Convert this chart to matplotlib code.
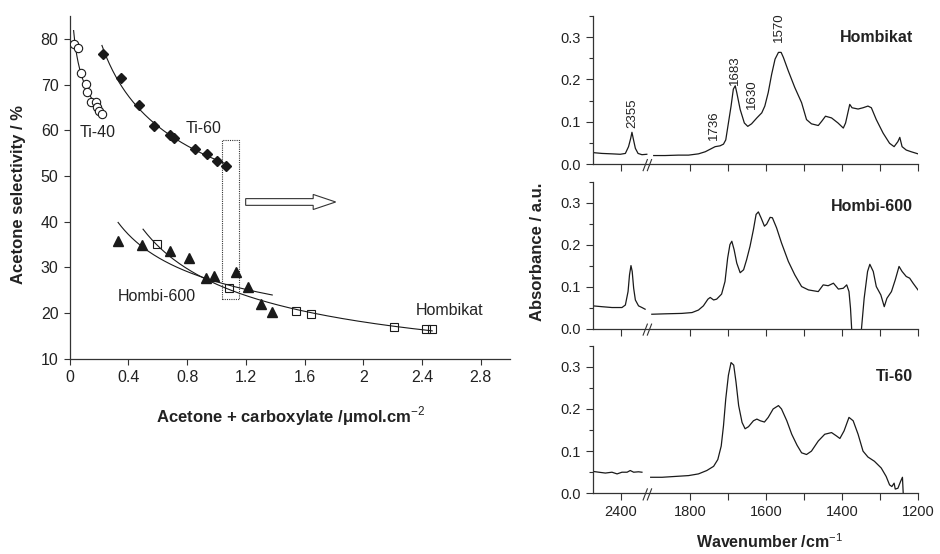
import numpy as np
import matplotlib
matplotlib.use("Agg")
import matplotlib.pyplot as plt
from matplotlib.patches import Rectangle, FancyArrow

plt.rcParams['font.family'] = ['Liberation Sans', 'DejaVu Sans']
plt.rcParams['mathtext.fontset'] = 'custom'
plt.rcParams['mathtext.rm'] = 'Liberation Sans'
plt.rcParams['mathtext.bf'] = 'Liberation Sans:bold'

# ---------------- left panel data ----------------
ti40_x = [0.029, 0.059, 0.077, 0.109, 0.120, 0.143, 0.179, 0.188, 0.202, 0.222]
ti40_y = [78.9, 77.9, 72.6, 70.2, 68.4, 66.2, 66.1, 65.1, 64.3, 63.6]
ti60_x = [0.227, 0.347, 0.470, 0.576, 0.683, 0.713, 0.854, 0.933, 1.003, 1.067]
ti60_y = [76.6, 71.4, 65.6, 60.9, 58.9, 58.2, 55.9, 54.7, 53.3, 52.2]
h600_x = [0.327, 0.490, 0.683, 0.815, 0.928, 0.985, 1.131, 1.213, 1.301, 1.376]
h600_y = [35.8, 34.9, 33.6, 32.0, 27.6, 28.0, 29.0, 25.7, 22.0, 20.3]
hk_x = [0.597, 1.085, 1.540, 1.642, 2.209, 2.425, 2.470]
hk_y = [35.0, 25.5, 20.4, 19.7, 17.0, 16.4, 16.4]
fit_ranges = {'ti40': (0.027, 0.225), 'ti60': (0.22, 1.075),
              'h600': (0.33, 1.38), 'hk': (0.50, 2.47)}

left_xticks = [0, 0.4, 0.8, 1.2, 1.6, 2.0, 2.4, 2.8]
left_xticklabels = ['0', '0.4', '0.8', '1.2', '1.6', '2', '2.4', '2.8']
left_yticks = [10, 20, 30, 40, 50, 60, 70, 80]

# ---------------- right panel data (spectra) ----------------
hk_l_wn = [2516, 2478, 2437, 2403, 2382, 2369, 2360, 2355, 2350, 2341, 2330, 2314, 2294]
hk_l_ab = [0.027, 0.025, 0.024, 0.023, 0.025, 0.041, 0.061, 0.075, 0.061, 0.037, 0.025, 0.022, 0.023]
hk_r_wn = [1897, 1867, 1832, 1805, 1779, 1761, 1748, 1735, 1722, 1713, 1707, 1700, 1693, 1687, 1682,
           1678, 1669, 1658, 1649, 1639, 1625, 1612, 1604, 1595, 1586, 1577, 1568, 1561, 1555, 1542,
           1525, 1507, 1494, 1481, 1463, 1454, 1444, 1428, 1411, 1397, 1391, 1380, 1374, 1358, 1345,
           1332, 1323, 1310, 1292, 1275, 1263, 1253, 1248, 1242, 1231, 1218, 1200]
hk_r_ab = [0.020, 0.020, 0.021, 0.021, 0.024, 0.029, 0.035, 0.041, 0.043, 0.047, 0.057, 0.097, 0.137, 0.177, 0.185,
           0.169, 0.129, 0.097, 0.089, 0.095, 0.109, 0.121, 0.137, 0.169, 0.212, 0.248, 0.264, 0.264, 0.252, 0.220,
           0.181, 0.145, 0.105, 0.095, 0.091, 0.101, 0.113, 0.109, 0.097, 0.085, 0.097, 0.141, 0.133, 0.130, 0.133,
           0.137, 0.133, 0.105, 0.073, 0.049, 0.041, 0.053, 0.063, 0.041, 0.033, 0.029, 0.024]

h6_l_wn = [2516, 2478, 2437, 2396, 2382, 2371, 2365, 2359, 2354, 2348, 2341, 2328, 2314, 2301]
h6_l_ab = [0.054, 0.052, 0.050, 0.050, 0.056, 0.088, 0.128, 0.150, 0.136, 0.096, 0.068, 0.054, 0.050, 0.046]
h6_r_wn = [1902, 1867, 1823, 1796, 1779, 1766, 1754, 1748, 1739, 1731, 1718, 1709, 1702, 1696, 1691,
           1685, 1678, 1669, 1660, 1652, 1643, 1634, 1627, 1621, 1614, 1605, 1599, 1590, 1584, 1573,
           1560, 1542, 1525, 1507, 1489, 1463, 1450, 1437, 1423, 1410, 1397, 1388, 1382, 1378, 1375,
           1372, 1352, 1349, 1342, 1333, 1327, 1318, 1310, 1298, 1289, 1282, 1270, 1260, 1250, 1242,
           1231, 1222, 1213, 1200]
h6_r_ab = [0.034, 0.035, 0.036, 0.038, 0.044, 0.054, 0.070, 0.074, 0.068, 0.070, 0.082, 0.112, 0.168, 0.200, 0.208,
           0.188, 0.156, 0.133, 0.140, 0.164, 0.196, 0.236, 0.272, 0.278, 0.264, 0.244, 0.249, 0.265, 0.264, 0.240,
           0.204, 0.160, 0.128, 0.100, 0.092, 0.088, 0.104, 0.102, 0.108, 0.094, 0.096, 0.104, 0.088, 0.048, 0.0,
           -0.05, -0.05, 0.0, 0.072, 0.136, 0.153, 0.136, 0.100, 0.080, 0.052, 0.072, 0.088, 0.116, 0.148, 0.136,
           0.124, 0.120, 0.108, 0.092]

t6_l_wn = [2516, 2491, 2464, 2437, 2416, 2396, 2375, 2362, 2348, 2328, 2314]
t6_l_ab = [0.052, 0.050, 0.048, 0.050, 0.046, 0.050, 0.050, 0.054, 0.050, 0.051, 0.050]
t6_r_wn = [1905, 1875, 1840, 1805, 1779, 1757, 1739, 1728, 1719, 1713, 1707, 1700, 1693, 1686, 1680,
           1673, 1664, 1656, 1647, 1634, 1625, 1616, 1605, 1595, 1582, 1568, 1560, 1546, 1533, 1519,
           1507, 1494, 1481, 1463, 1446, 1428, 1415, 1406, 1395, 1382, 1371, 1358, 1345, 1332, 1315,
           1297, 1284, 1275, 1269, 1263, 1260, 1253, 1246, 1241, 1239]
t6_r_ab = [0.038, 0.038, 0.040, 0.042, 0.046, 0.054, 0.064, 0.080, 0.112, 0.160, 0.224, 0.280, 0.310, 0.304, 0.264,
           0.208, 0.168, 0.153, 0.158, 0.172, 0.176, 0.172, 0.169, 0.180, 0.200, 0.208, 0.200, 0.172, 0.140, 0.114,
           0.096, 0.092, 0.100, 0.124, 0.140, 0.144, 0.136, 0.130, 0.148, 0.180, 0.172, 0.140, 0.100, 0.086, 0.076,
           0.060, 0.040, 0.020, 0.016, 0.024, 0.010, 0.012, 0.028, 0.038, 0.0]

panel_names = ['Hombikat', 'Hombi-600', 'Ti-60']
peak_labels = ['2355', '1736', '1683', '1630', '1570']
peak_wn = [2355, 1739, 1682, 1637, 1568]
peak_ab = [0.085, 0.057, 0.187, 0.129, 0.288]

right_xticks = [2400, 1800, 1600, 1400, 1200]
right_xminor = [1700, 1500, 1300]
right_yticks = [0.0, 0.1, 0.2, 0.3]
right_yminor = [0.05, 0.15, 0.25, 0.35]

# ---------------- figure ----------------
fig = plt.figure(figsize=(9.4, 5.54), dpi=100)
LC = '#1a1a1a'

ax = fig.add_axes([0.0741, 0.3525, 0.4685, 0.6186])
for s in ['top', 'right']:
    ax.spines[s].set_visible(False)
for s in ['left', 'bottom']:
    ax.spines[s].set_linewidth(0.9)
    ax.spines[s].set_color('#333333')


def power_fit(x, y, rng):
    b, a = np.polyfit(np.log(x), np.log(y), 1)
    xs = np.linspace(rng[0], rng[1], 200)
    return xs, np.exp(a) * xs ** b


for (xd, yd, key) in [(ti40_x, ti40_y, 'ti40'), (ti60_x, ti60_y, 'ti60'),
                      (h600_x, h600_y, 'h600'), (hk_x, hk_y, 'hk')]:
    xs, ys = power_fit(xd, yd, fit_ranges[key])
    ax.plot(xs, ys, color=LC, lw=0.8, zorder=2)

ax.plot(ti40_x, ti40_y, 'o', ms=6, mfc='white', mec=LC, mew=0.8, zorder=3)
ax.plot(ti60_x, ti60_y, 'D', ms=5.5, mfc=LC, mec=LC, zorder=3)
ax.plot(h600_x, h600_y, '^', ms=6.5, mfc=LC, mec=LC, zorder=3)
ax.plot(hk_x, hk_y, 's', ms=6, mfc='none', mec=LC, mew=0.8, zorder=3)

ax.set_xlim(0, 3.0)
ax.set_ylim(10, 85)
ax.set_xticks(left_xticks)
ax.set_xticklabels(left_xticklabels)
ax.set_yticks(left_yticks)
ax.tick_params(axis='both', direction='out', length=4.5, width=0.8, labelsize=11.5,
               colors='#333333', labelcolor='#222222')

ax.text(0.07, 59.5, 'Ti-40', fontsize=11.5, va='center', ha='left', color='#222222')
ax.text(0.787, 60.3, 'Ti-60', fontsize=11.5, va='center', ha='left', color='#222222')
ax.text(0.331, 23.6, 'Hombi-600', fontsize=11.5, va='center', ha='left', color='#222222')
ax.text(2.36, 20.5, 'Hombikat', fontsize=11.5, va='center', ha='left', color='#222222')

ax.add_patch(Rectangle((1.039, 23.0), 0.112, 34.9, fill=False, ls=(0, (1, 1)),
                       lw=0.8, ec='#333333', zorder=1))
ax.add_patch(FancyArrow(1.199, 44.3, 0.613, 0, width=1.47, head_width=3.3,
                        head_length=0.153, length_includes_head=True,
                        fc='white', ec='#333333', lw=0.8))

fig.text(291 / 940, 1 - 415.7 / 554, 'Acetone + carboxylate /μmol.cm$^{-2}$',
         fontsize=12, fontweight='bold', ha='center', va='center', color='#222222')
fig.text(19 / 940, 1 - 195 / 554, 'Acetone selectivity / %', rotation=90,
         fontsize=12, fontweight='bold', ha='center', va='center', color='#222222')

# ---------------- broken wavenumber scale ----------------
WL, VL, SL = 2400.0, 97.0, 0.733
WR, VR, SR = 1800.0, 306.0, 1.14
W_A, W_B = 2290.0, 1905.0
vA = VL - (W_A - WL) * SL
vB = VR - (W_B - WR) * SR


def _v(w):
    w = np.asarray(w, dtype=float)
    left = VL - (w - WL) * SL
    right = VR - (w - WR) * SR
    mid = vA + (W_A - w) / (W_A - W_B) * (vB - vA)
    return np.where(w >= W_A, left, np.where(w <= W_B, right, mid))


def fwd(w):
    return -_v(w)


def inv(u):
    v = -np.asarray(u, dtype=float)
    lw_ = WL - (v - VL) / SL
    rw_ = WR - (v - VR) / SR
    mw_ = W_A - (v - vA) / (vB - vA) * (W_A - W_B)
    return np.where(v <= vA, lw_, np.where(v >= vB, rw_, mw_))


panel_boxes = [(16, 164), (181.7, 328.5), (345.7, 493.3)]
spectra = [(hk_l_wn, hk_l_ab, hk_r_wn, hk_r_ab),
           (h6_l_wn, h6_l_ab, h6_r_wn, h6_r_ab),
           (t6_l_wn, t6_l_ab, t6_r_wn, t6_r_ab)]
name_y = [0.299, 0.290, 0.276]

for i, ((top, bot), (lw_, la, rw_, ra)) in enumerate(zip(panel_boxes, spectra)):
    axr = fig.add_axes([592.7 / 940, 1 - bot / 554, (918 - 592.7) / 940, (bot - top) / 554])
    axr.set_xscale('function', functions=(fwd, inv))
    axr.plot(lw_, la, color=LC, lw=0.9)
    axr.plot(rw_, ra, color=LC, lw=0.9)
    axr.set_xlim(2516, 1200)
    axr.set_ylim(0, 0.35)
    for s in ['top', 'right']:
        axr.spines[s].set_visible(False)
    for s in ['left', 'bottom']:
        axr.spines[s].set_linewidth(0.9)
        axr.spines[s].set_color('#333333')
    axr.set_yticks(right_yticks)
    axr.set_yticklabels(['0.0', '0.1', '0.2', '0.3'])
    axr.set_yticks(right_yminor, minor=True)
    axr.set_xticks(right_xticks)
    axr.set_xticks(right_xminor, minor=True)
    if i == 2:
        axr.set_xticklabels([str(t) for t in right_xticks])
    else:
        axr.set_xticklabels([])
    axr.tick_params(axis='both', which='major', direction='out', length=5, width=0.8,
                    labelsize=10.5, colors='#333333', labelcolor='#222222')
    axr.tick_params(axis='x', which='minor', direction='out', length=5, width=0.8, colors='#333333')
    axr.tick_params(axis='y', which='minor', direction='out', length=3, width=0.8, colors='#333333')
    # axis break marks
    for x0 in (0.155, 0.168):
        axr.plot([x0, x0 + 0.013], [-0.045, 0.03], transform=axr.transAxes,
                 color='#333333', lw=0.8, clip_on=False)
    axr.text(0.985, name_y[i] / 0.35, panel_names[i], transform=axr.transAxes,
             ha='right', va='center', fontsize=11.5, fontweight='bold', color='#222222')
    if i == 0:
        for lab, w, a in zip(peak_labels, peak_wn, peak_ab):
            axr.text(w, a, lab, rotation=90, ha='center', va='bottom', fontsize=9.5,
                     color='#222222')

fig.text(537 / 940, 1 - 252 / 554, 'Absorbance / a.u.', rotation=90,
         fontsize=12, fontweight='bold', ha='center', va='center', color='#222222')
fig.text(769 / 940, 1 - 542 / 554, r'Wavenumber /cm$^{-1}$',
         fontsize=11.5, fontweight='bold', ha='center', va='center', color='#222222')

fig.savefig('out.png', dpi=100)
